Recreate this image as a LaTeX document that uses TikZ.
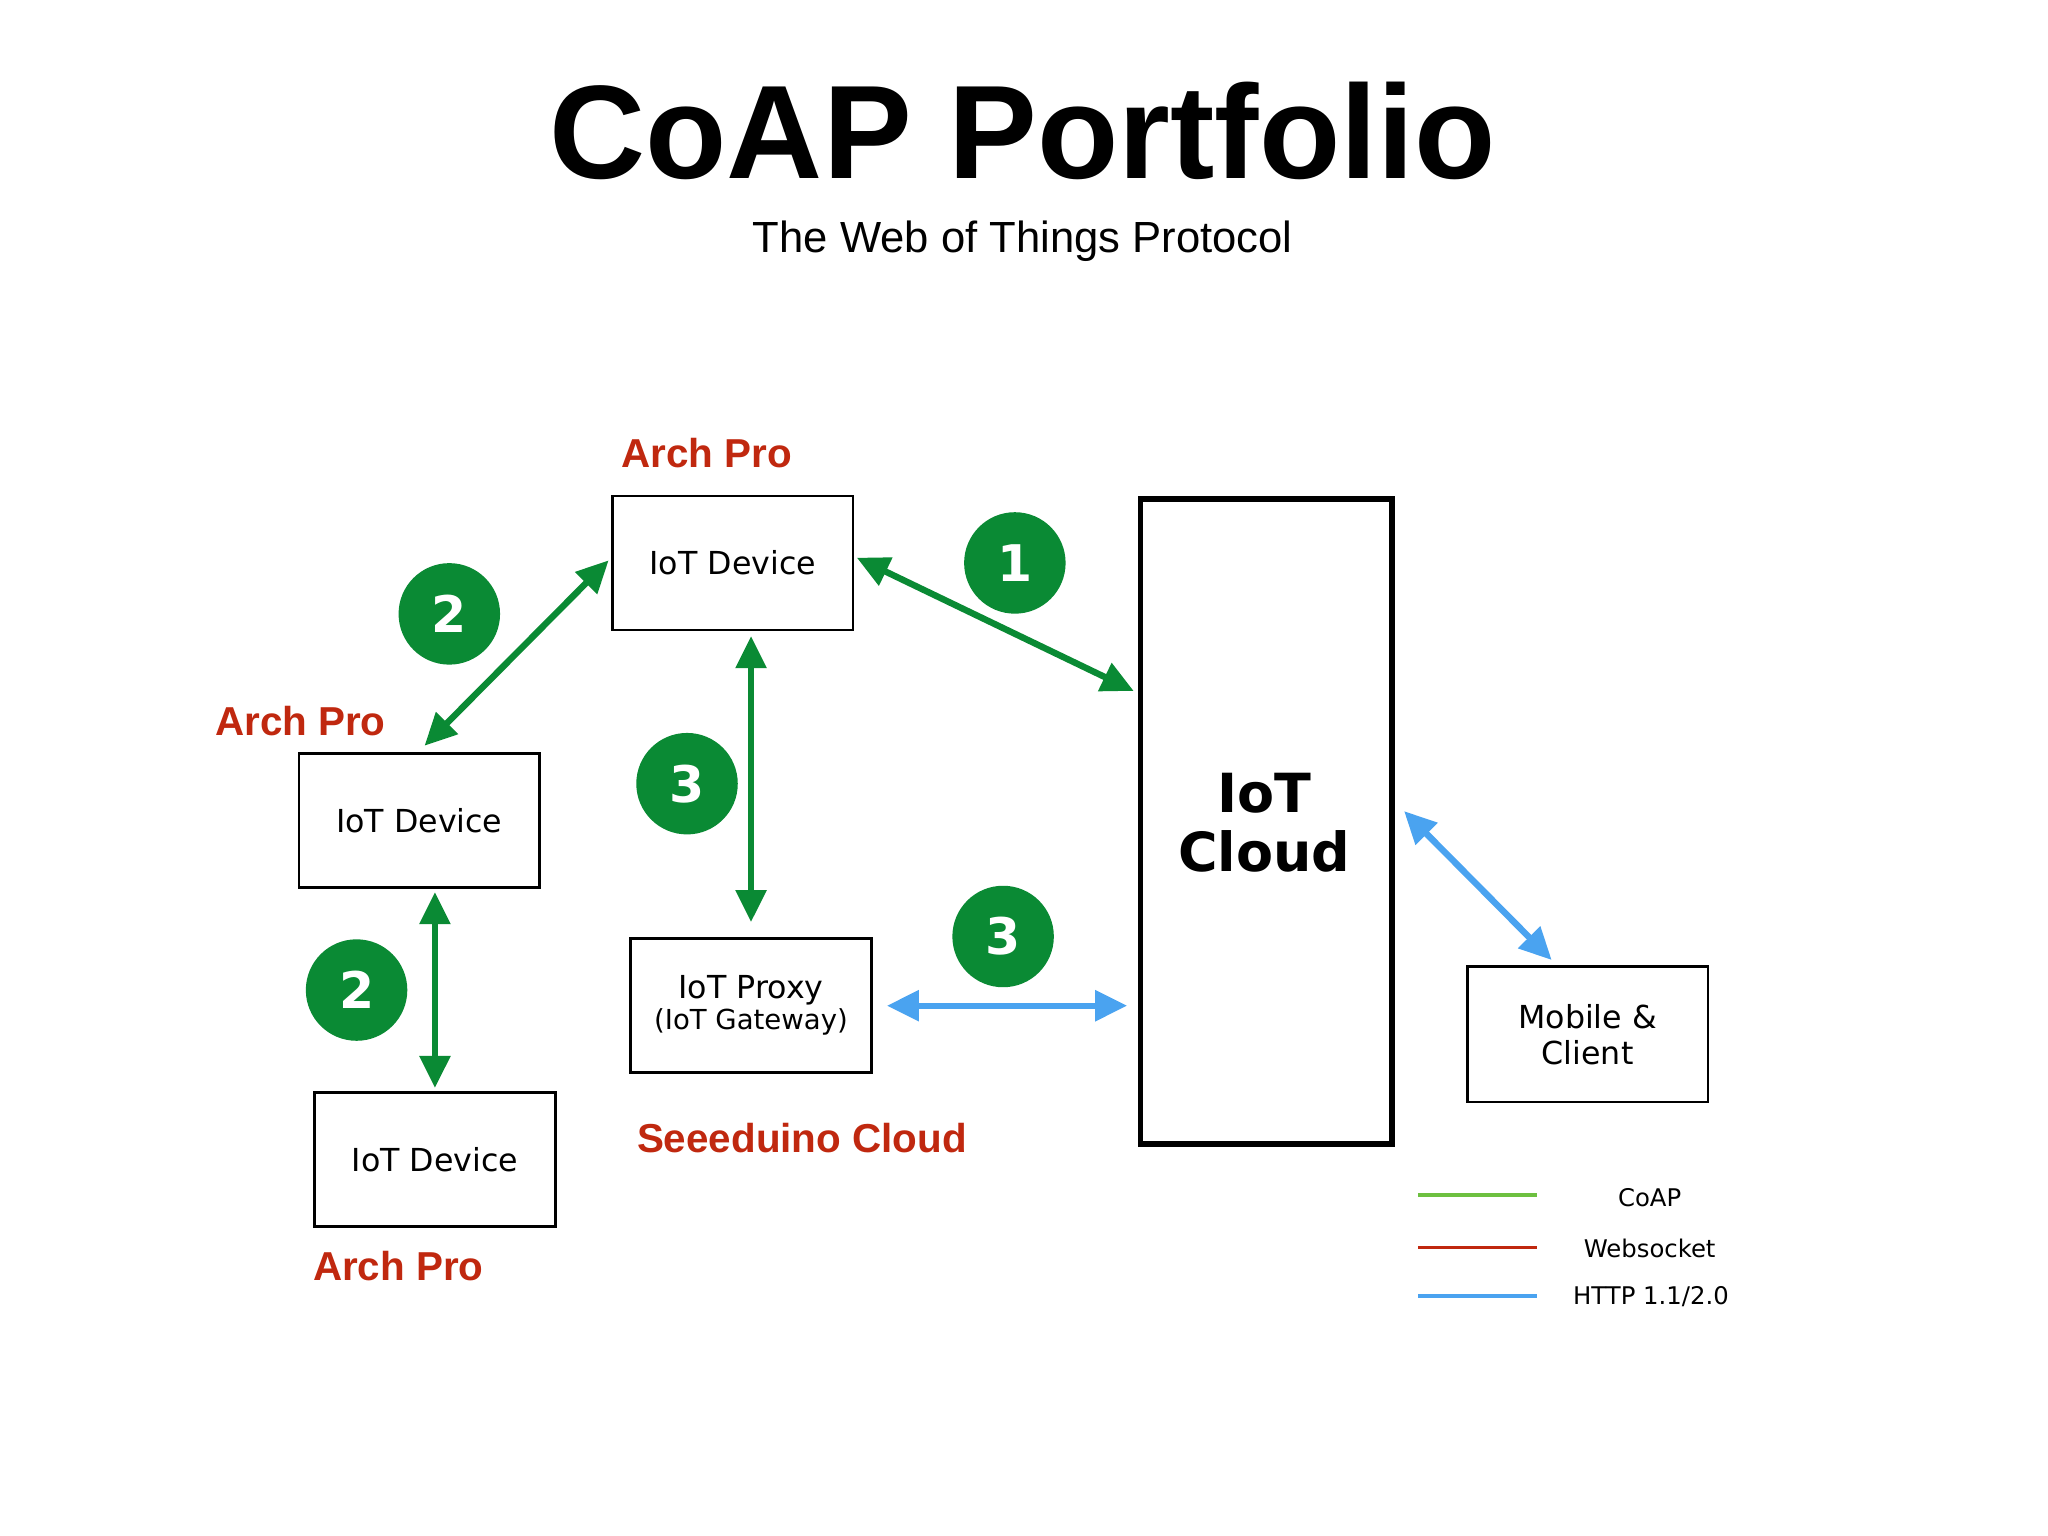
\documentclass[tikz,border=0pt]{standalone}
\usepackage{fontspec}
\setmainfont{DejaVu Sans}
\newfontfamily\lib{Liberation Sans}
\usetikzlibrary{arrows.meta}
\definecolor{archred}{HTML}{C0280F}
\definecolor{cgreen}{HTML}{0A8A34}
\definecolor{cblue}{HTML}{4AA3F0}
\definecolor{lgreen}{HTML}{6DC040}
\tikzset{
 box/.style={draw,line width=1.2pt,minimum width=185*0.567pt,minimum height=103*0.567pt,align=center,font=\fontsize{13.8}{16.5}\selectfont},
 redlbl/.style={text=archred,font=\lib\bfseries\fontsize{17.6}{20}\selectfont},
 num/.style={circle,fill=cgreen,minimum size=78*0.567pt,inner sep=0pt,text=white,font=\bfseries\fontsize{22}{24}\selectfont},
 garrow/.style={draw=cgreen,line width=2.8pt,{Triangle[length=14pt,width=13pt]}-{Triangle[length=14pt,width=13pt]}},
 barrow/.style={draw=cblue,line width=2.8pt,{Triangle[length=14pt,width=13pt]}-{Triangle[length=14pt,width=13pt]}},
 leg/.style={font=\fontsize{10.6}{12}\selectfont},
}
\begin{document}
\begin{tikzpicture}[x=0.02cm,y=-0.02cm]
\useasboundingbox[fill=white] (0,0) rectangle (1568,1176);
\node[font=\lib\bfseries\fontsize{58}{60}\selectfont] (title) at (783,100) {CoAP Portfolio};
\node[font=\lib\fontsize{19}{22}\selectfont] (sub) at (783,185) {The Web of Things Protocol};
\node[box] (d1) at (561,431) {IoT Device};
\node[box] (d2) at (321,628) {IoT Device};
\node[box] (d3) at (333,888) {IoT Device};
\node[box] (px) at (575,770) {IoT Proxy\\[-3pt]{\fontsize{12}{14}\selectfont (IoT Gateway)}};
\node[draw,line width=2.4pt,minimum width=193*0.567pt,minimum height=496*0.567pt] (cloud) at (969.5,629) {};
\node[align=center,font=\bfseries\fontsize{23.5}{26}\selectfont] (ct) at (968,630) {IoT\\Cloud};
\node[box,minimum height=104*0.567pt] (mob) at (1215.5,792) {Mobile \&\\[-1pt]Client};
\node[redlbl] (l1) at (541,347) {Arch Pro};
\node[redlbl] (l2) at (230,552) {Arch Pro};
\node[redlbl] (l3) at (305,969) {Arch Pro};
\node[redlbl] (l4) at (614,871) {Seeeduino Cloud};
\node[num] (n1) at (777,431) {1};
\node[num] (n2) at (344,470) {2};
\node[num] (n3) at (526,600) {3};
\node[num] (n4) at (273,758) {2};
\node[num] (n5) at (768,717) {3};
\coordinate (a1s) at (656,427); \coordinate (a1e) at (868,529);
\coordinate (a2s) at (466,429); \coordinate (a2e) at (325,571);
\coordinate (a3s) at (575,487); \coordinate (a3e) at (575,706);
\coordinate (a4s) at (333,683); \coordinate (a4e) at (333,833);
\coordinate (b1s) at (679,770); \coordinate (b1e) at (863,770);
\coordinate (b2s) at (1075,621); \coordinate (b2e) at (1188,735);
\draw[garrow] (a1s) -- (a1e);
\draw[garrow] (a2s) -- (a2e);
\draw[garrow] (a3s) -- (a3e);
\draw[garrow] (a4s) -- (a4e);
\draw[barrow] (b1s) -- (b1e);
\draw[barrow] (b2s) -- (b2e);
\coordinate (g1) at (1086,915); \coordinate (g2) at (1177,915);
\coordinate (r1) at (1086,955); \coordinate (r2) at (1177,955);
\coordinate (h1) at (1086,992); \coordinate (h2) at (1177,992);
\draw[lgreen,line width=1.6pt] (g1) -- (g2);
\draw[archred,line width=1.6pt] (r1) -- (r2);
\draw[cblue,line width=1.6pt] (h1) -- (h2);
\node[leg] (t1) at (1263,917) {CoAP};
\node[leg] (t2) at (1263,956) {Websocket};
\node[leg] (t3) at (1264,993) {HTTP 1.1/2.0};
\end{tikzpicture}
\end{document}
